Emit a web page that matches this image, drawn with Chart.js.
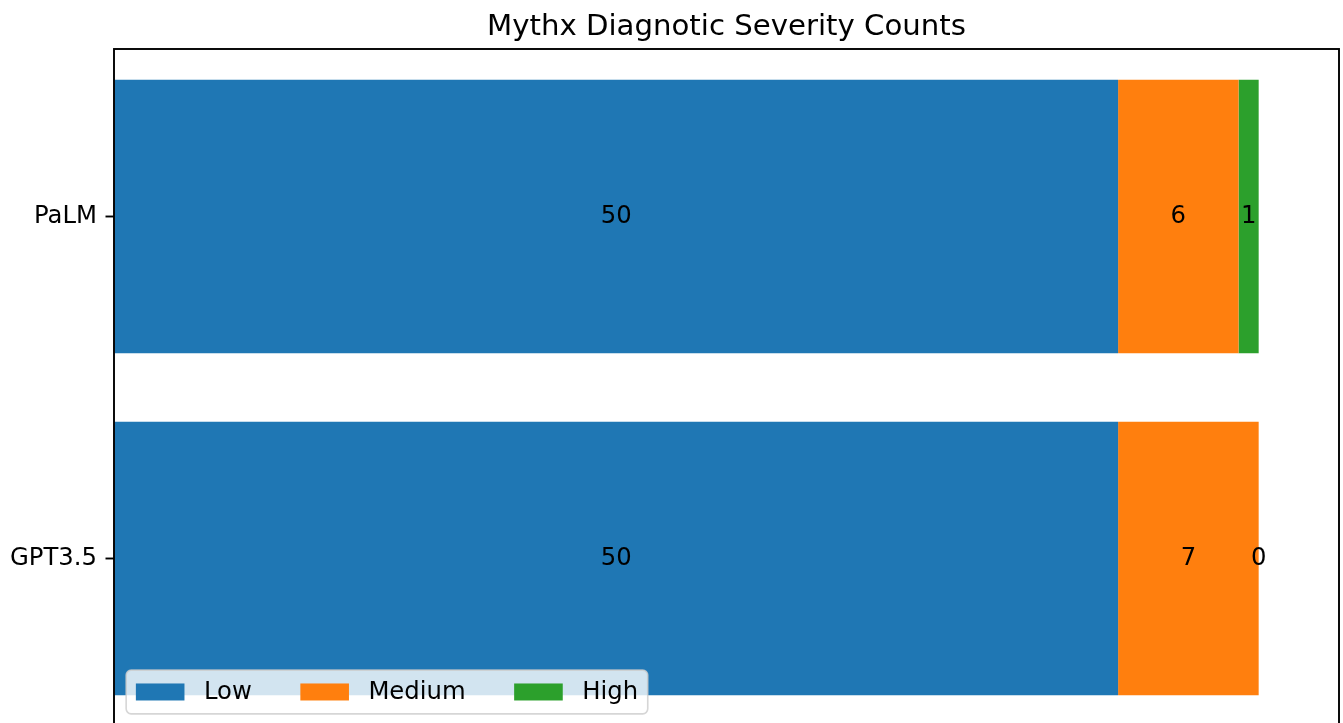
<!DOCTYPE html>
<html><head><meta charset="utf-8">
<script src="https://cdn.jsdelivr.net/npm/chart.js@4.4.0/dist/chart.umd.min.js"></script>
<style>html,body{margin:0;padding:0;overflow:hidden;background:#fff}#wrap{width:1343px;height:800px}</style>
</head><body><div id="wrap"><canvas id="c" width="1343" height="800"></canvas></div>
<script>
const categories = ['PaLM', 'GPT3.5'];
const seriesNames = ['Low', 'Medium', 'High'];
const lowCounts = [50, 50];
const mediumCounts = [6, 7];
const highCounts = [1, 0];
const xTicks = [0, 10, 20, 30, 40, 50, 60];
const chartTitle = 'Mythx Diagnotic Severity Counts';

const colors = ['#1f77b4', '#ff7f0e', '#2ca02c'];
const FONT = '"DejaVu Sans", sans-serif';
const FS = 24.3;

// category index -> position on the y axis (top category highest, as in matplotlib barh)
const catPos = i => categories.length - 1 - i;

const barLabels = {
  id: 'barLabels',
  afterDatasetsDraw(chart) {
    const ctx = chart.ctx;
    ctx.save();
    ctx.font = FS + 'px ' + FONT;
    ctx.fillStyle = '#000';
    ctx.textAlign = 'center';
    ctx.textBaseline = 'middle';
    chart.data.datasets.forEach((ds, i) => {
      chart.getDatasetMeta(i).data.forEach((el, j) => {
        const cx = (el.x + el.base) / 2;
        ctx.fillText(String(ds.data[j].x), cx, el.y);
      });
    });
    ctx.restore();
  }
};

const frame = {
  id: 'frame',
  afterDraw(chart) {
    const a = chart.chartArea, ctx = chart.ctx;
    ctx.save();
    ctx.strokeStyle = '#000';
    ctx.lineWidth = 1.9;
    ctx.strokeRect(a.left, a.top, a.right - a.left, a.bottom - a.top);
    // title centred over the axes
    ctx.font = '29.2px ' + FONT;
    ctx.fillStyle = '#000';
    ctx.textAlign = 'center';
    ctx.textBaseline = 'alphabetic';
    ctx.fillText(chartTitle, (a.left + a.right) / 2, a.top - 14);
    ctx.restore();
    // legend
    const bp = 0.4 * FS, hl = 2 * FS, hh = 0.7 * FS, htp = 0.8 * FS, cs = 2 * FS, bap = 0.5 * FS;
    ctx.save();
    ctx.font = FS + 'px ' + FONT;
    const names = chart.data.datasets.map(d => d.label);
    const widths = names.map(n => ctx.measureText(n).width);
    let boxW = 2 * bp;
    widths.forEach((w, i) => { boxW += hl + htp + w + (i > 0 ? cs : 0); });
    const innerH = FS;
    const left = a.left + bap, bottom = a.bottom - bap, top = bottom - 2 * bp - innerH;
    ctx.beginPath();
    if (ctx.roundRect) ctx.roundRect(left, top, boxW, bottom - top, 5); else ctx.rect(left, top, boxW, bottom - top);
    ctx.fillStyle = 'rgba(255,255,255,0.8)';
    ctx.fill();
    ctx.strokeStyle = 'rgba(204,204,204,0.8)';
    ctx.lineWidth = 1.6;
    ctx.stroke();
    const cy = top + bp + innerH / 2;
    let x = left + bp;
    ctx.textBaseline = 'middle';
    ctx.textAlign = 'left';
    names.forEach((n, i) => {
      ctx.fillStyle = chart.data.datasets[i].backgroundColor;
      ctx.fillRect(x, cy - hh / 2, hl, hh);
      ctx.fillStyle = '#000';
      ctx.fillText(n, x + hl + htp, cy + 1);
      x += hl + htp + widths[i] + cs;
    });
    ctx.restore();
  }
};

const seriesData = [lowCounts, mediumCounts, highCounts];

new Chart(document.getElementById('c'), {
  type: 'bar',
  data: {
    datasets: seriesNames.map((n, i) => ({
      label: n,
      data: seriesData[i].map((v, j) => ({ x: v, y: catPos(j) })),
      backgroundColor: colors[i],
      borderWidth: 0,
      barPercentage: 0.8,
      categoryPercentage: 1.0
    }))
  },
  options: {
    indexAxis: 'y',
    responsive: false,
    animation: false,
    layout: { padding: { left: 0, right: 4, top: 49, bottom: 0 } },
    plugins: {
      legend: { display: false },
      tooltip: { enabled: false },
      title: { display: false }
    },
    scales: {
      x: {
        type: 'linear',
        stacked: true,
        min: 0,
        max: 61,
        afterBuildTicks: s => { s.ticks = xTicks.map(v => ({ value: v })); },
        afterFit: s => { s.height = 74; },
        border: { display: false },
        grid: { offset: false, drawOnChartArea: false, color: '#000', tickLength: 8.5, tickWidth: 1.9 },
        ticks: { color: '#000', font: { family: FONT, size: FS }, padding: 8.5 }
      },
      y: {
        type: 'linear',
        stacked: true,
        min: -0.49,
        max: 1.49,
        offset: false,
        afterBuildTicks: s => { s.ticks = categories.map((c, i) => ({ value: catPos(i) })); },
        afterFit: s => { s.width = 114; },
        border: { display: false },
        grid: { offset: false, drawOnChartArea: false, color: '#000', tickLength: 8.5, tickWidth: 1.9 },
        ticks: {
          color: '#000', font: { family: FONT, size: FS }, padding: 8.5,
          callback: v => categories[categories.length - 1 - Math.round(v)]
        }
      }
    }
  },
  plugins: [barLabels, frame]
});
</script>
</body></html>
